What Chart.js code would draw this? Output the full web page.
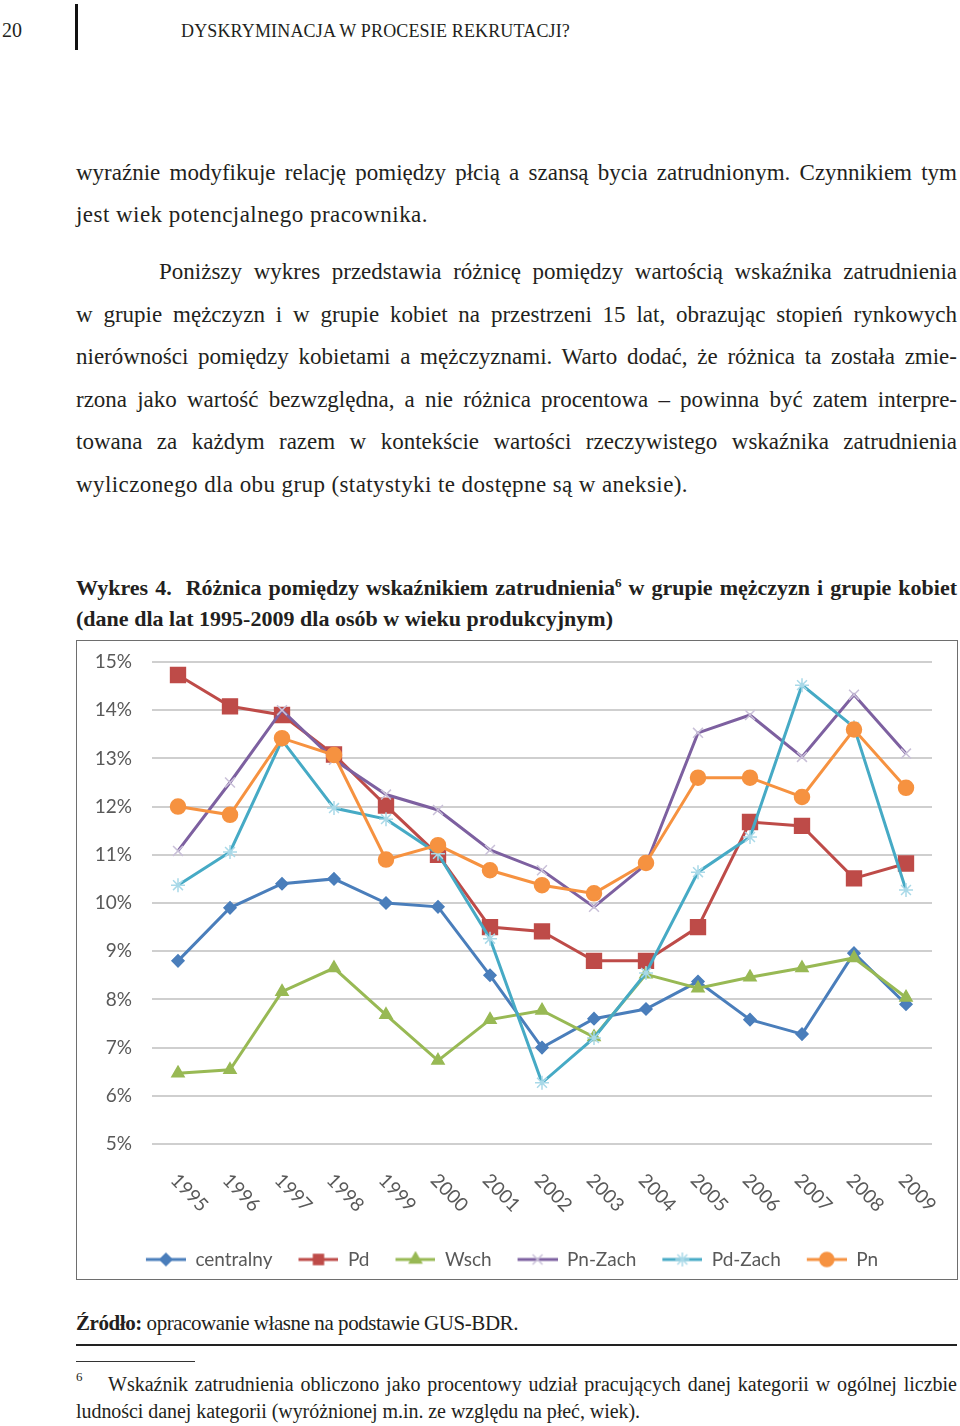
<!DOCTYPE html>
<html lang="pl">
<head>
<meta charset="utf-8">
<title>Wykres 4</title>
<script src="https://cdn.jsdelivr.net/npm/chart.js@4.4.1/dist/chart.umd.min.js"></script>
<style>
  body {
    margin: 0;
    width: 960px;
    height: 1426px;
    position: relative;
    overflow: hidden;
    background: #fff;
    color: #231f20;
    font-family: "Liberation Serif", "Times New Roman", serif;
  }
  .ln { position: absolute; white-space: nowrap; line-height: 1.3; }
  .j { text-align: justify; text-align-last: justify; }
  .ln sup { font-size: 0.6em; line-height: 0; }
  #bar { position: absolute; left: 75px; top: 4px; width: 3px; height: 46px; background: #111; }
  #rule { position: absolute; left: 76px; top: 1344px; width: 881px; height: 2px; background: #222; }
  #fnrule { position: absolute; left: 76px; top: 1361px; width: 119px; height: 1px; background: #333; }
  #fnmark { position: absolute; left: 76px; top: 1370px; font-size: 13px; line-height: 1; }
  #chartBox {
    position: absolute;
    left: 76px;
    top: 640px;
    width: 882px;
    height: 640px;
    box-sizing: border-box;
    border: 1px solid #6e6e6e;
  }
</style>
</head>
<body>
<div id="bar"></div>
<div id="rule"></div>
<div id="fnrule"></div>
<div id="fnmark">6</div>
<div id="chartBox"><canvas id="chart"></canvas></div>

<script>
// ---- chart data ----
const years = ['1995', '1996', '1997', '1998', '1999', '2000', '2001', '2002',
               '2003', '2004', '2005', '2006', '2007', '2008', '2009'];
const centralny = [8.8, 9.9, 10.4, 10.5, 10.0, 9.92, 8.5, 7.0, 7.6, 7.8, 8.37, 7.58, 7.28, 8.96, 7.9];
const pd        = [14.73, 14.08, 13.9, 13.08, 12.02, 11.0, 9.5, 9.41, 8.8, 8.8, 9.5, 11.68, 11.6, 10.51, 10.82];
const wsch      = [6.47, 6.54, 8.16, 8.65, 7.68, 6.73, 7.58, 7.77, 7.22, 8.52, 8.23, 8.46, 8.65, 8.86, 8.04];
const pnZach    = [11.08, 12.5, 14.0, 12.97, 12.25, 11.93, 11.1, 10.68, 9.92, 10.8, 13.53, 13.9, 13.03, 14.32, 13.1];
const pdZach    = [10.37, 11.06, 13.38, 11.97, 11.74, 11.02, 9.26, 6.27, 7.2, 8.55, 10.64, 11.37, 14.52, 13.65, 10.27];
const pn        = [12.0, 11.83, 13.42, 13.07, 10.9, 11.2, 10.68, 10.37, 10.2, 10.83, 12.6, 12.6, 12.2, 13.6, 12.39];
const seriesNames = ['centralny', 'Pd', 'Wsch', 'Pn-Zach', 'Pd-Zach', 'Pn'];
const yMin = 5;
const yMax = 15;

// ---- page text ----
const pageLines = [
  {h: '20', x: 2, b: 37, fs: 20},
  {h: 'DYSKRYMINACJA W PROCESIE REKRUTACJI?', x: 181, r: 570, b: 38, fs: 18},
  {h: 'wyraźnie modyfikuje relację pomiędzy płcią a szansą bycia zatrudnionym. Czynnikiem tym', x: 76, r: 957, b: 181, fs: 23, j: true},
  {h: 'jest wiek potencjalnego pracownika.', x: 76, r: 428, b: 223, fs: 23},
  {h: 'Poniższy wykres przedstawia różnicę pomiędzy wartością wskaźnika zatrudnienia', x: 159, r: 957, b: 280, fs: 23, j: true},
  {h: 'w grupie mężczyzn i w grupie kobiet na przestrzeni 15 lat, obrazując stopień rynkowych', x: 76, r: 957, b: 323, fs: 23, j: true},
  {h: 'nierówności pomiędzy kobietami a mężczyznami. Warto dodać, że różnica ta została zmie-', x: 76, r: 957, b: 365, fs: 23, j: true},
  {h: 'rzona jako wartość bezwzględna, a nie różnica procentowa – powinna być zatem interpre-', x: 76, r: 957, b: 408, fs: 23, j: true},
  {h: 'towana za każdym razem w kontekście wartości rzeczywistego wskaźnika zatrudnienia', x: 76, r: 957, b: 450, fs: 23, j: true},
  {h: 'wyliczonego dla obu grup (statystyki te dostępne są w aneksie).', x: 76, r: 688, b: 493, fs: 23},
  {h: '<b>Wykres 4.&nbsp; Różnica pomiędzy wskaźnikiem zatrudnienia<sup>6</sup> w grupie mężczyzn i grupie kobiet</b>', x: 76, r: 957, b: 596, fs: 22, j: true},
  {h: '<b>(dane dla lat 1995-2009 dla osób w wieku produkcyjnym)</b>', x: 76, r: 613, b: 627, fs: 22},
  {h: '<b>Źródło:</b> opracowanie własne na podstawie GUS-BDR.', x: 76, r: 518, b: 1331, fs: 21},
  {h: 'Wskaźnik zatrudnienia obliczono jako procentowy udział pracujących danej kategorii w ogólnej liczbie', x: 108, r: 957, b: 1391, fs: 20, j: true},
  {h: 'ludności danej kategorii (wyróżnionej m.in. ze względu na płeć, wiek).', x: 76, r: 640, b: 1418, fs: 20}
];

function layoutLines() {
  pageLines.forEach(l => {
    const el = document.createElement('div');
    el.className = 'ln';
    el.style.left = l.x + 'px';
    el.style.fontSize = l.fs + 'px';
    // baseline placement for line-height 1.3
    el.style.top = (l.b - 0.9875 * l.fs) + 'px';
    const span = document.createElement('span');
    span.innerHTML = l.h;
    el.appendChild(span);
    document.body.appendChild(el);
    if (!l.r) return;
    const target = l.r - l.x;
    const natural = span.getBoundingClientRect().width;
    const n = span.textContent.length;
    if (l.j) {
      if (natural > target - 2) span.style.letterSpacing = ((target - 2 - natural) / n) + 'px';
      el.style.width = target + 'px';
      el.style.whiteSpace = 'normal';
      el.classList.add('j');
    } else {
      span.style.letterSpacing = ((target - natural) / n) + 'px';
    }
  });
}
layoutLines();

// ---- chart ----
const chartFont = 'Lato, "Liberation Sans", sans-serif';
const textGray = '#595959';

const styles = [
  {color: '#4a7ebb', point: 'rectRot',  radius: 6,    fill: '#4a7ebb', stroke: '#4a7ebb'},
  {color: '#be4b48', point: 'rect',     radius: 10.5, fill: '#be4b48', stroke: '#be4b48'},
  {color: '#98b954', point: 'triangle', radius: 7,    fill: '#98b954', stroke: '#98b954'},
  {color: '#7d60a0', point: 'crossRot', radius: 7,    fill: '#c9c0d8', stroke: '#c9c0d8'},
  {color: '#46aac5', point: 'star',     radius: 7,    fill: '#a9d9e8', stroke: '#a9d9e8'},
  {color: '#f69240', point: 'circle',   radius: 7.5,  fill: '#f69240', stroke: '#f69240'}
];
const seriesValues = [centralny, pd, wsch, pnZach, pdZach, pn];

// legend icon: short line with the marker in the middle, transparent gap on the left
function legendIcon(s) {
  const c = document.createElement('canvas');
  c.width = 55;
  c.height = 18;
  const g = c.getContext('2d');
  g.strokeStyle = s.color;
  g.lineWidth = 3;
  g.beginPath();
  g.moveTo(15, 9);
  g.lineTo(55, 9);
  g.stroke();
  g.fillStyle = s.fill;
  g.strokeStyle = s.stroke;
  g.lineWidth = 1.5;
  Chart.helpers.drawPoint(g, {pointStyle: s.point, radius: Math.min(s.radius, 7), rotation: 0, borderWidth: 1.5}, 35, 9);
  return c;
}
const icons = styles.map(legendIcon);

const yearLabels = {
  id: 'yearLabels',
  afterDraw(chart) {
    const {ctx, chartArea, scales} = chart;
    ctx.save();
    ctx.font = '19px ' + chartFont;
    ctx.fillStyle = textGray;
    ctx.textAlign = 'left';
    ctx.textBaseline = 'middle';
    years.forEach((yr, i) => {
      ctx.save();
      ctx.translate(scales.x.getPixelForTick(i) - 4, chartArea.bottom + 33);
      ctx.rotate(46 * Math.PI / 180);
      ctx.fillText(yr, 0, 0);
      ctx.restore();
    });
    ctx.restore();
  }
};

Chart.defaults.font.family = chartFont;

new Chart(document.getElementById('chart'), {
  type: 'line',
  data: {
    labels: years,
    datasets: seriesNames.map((name, i) => ({
      label: name,
      data: seriesValues[i],
      borderColor: styles[i].color,
      backgroundColor: styles[i].color,
      borderWidth: 3,
      pointStyle: styles[i].point,
      pointRadius: styles[i].radius,
      pointBackgroundColor: styles[i].fill,
      pointBorderColor: styles[i].stroke,
      pointBorderWidth: 1.5,
      tension: 0,
      order: seriesNames.length - i
    }))
  },
  options: {
    responsive: true,
    maintainAspectRatio: false,
    animation: false,
    layout: {padding: {top: 21, right: 25, left: 0, bottom: 0}},
    plugins: {
      tooltip: {enabled: false},
      legend: {
        position: 'bottom',
        labels: {
          usePointStyle: true,
          pointStyleWidth: 55,
          padding: 11,
          color: textGray,
          font: {size: 19},
          sort: (a, b) => a.datasetIndex - b.datasetIndex,
          generateLabels(chart) {
            return Chart.defaults.plugins.legend.labels.generateLabels(chart)
              .map(item => ({...item, pointStyle: icons[item.datasetIndex]}));
          }
        }
      }
    },
    scales: {
      x: {
        offset: true,
        grid: {display: false},
        border: {display: false},
        ticks: {display: false},
        afterFit(scale) { scale.height = 95; }
      },
      y: {
        min: yMin,
        max: yMax,
        grid: {color: '#cfcfcf', lineWidth: 2, drawTicks: false},
        border: {display: false},
        ticks: {
          stepSize: 1,
          padding: 20,
          color: textGray,
          font: {size: 19},
          callback: v => v + '%'
        },
        afterFit(scale) {
          scale.width = 75;
          // the label padding should not push the plot area down
          scale.paddingTop = 0;
          scale.paddingBottom = 0;
        }
      }
    }
  },
  plugins: [yearLabels]
});
</script>
</body>
</html>
